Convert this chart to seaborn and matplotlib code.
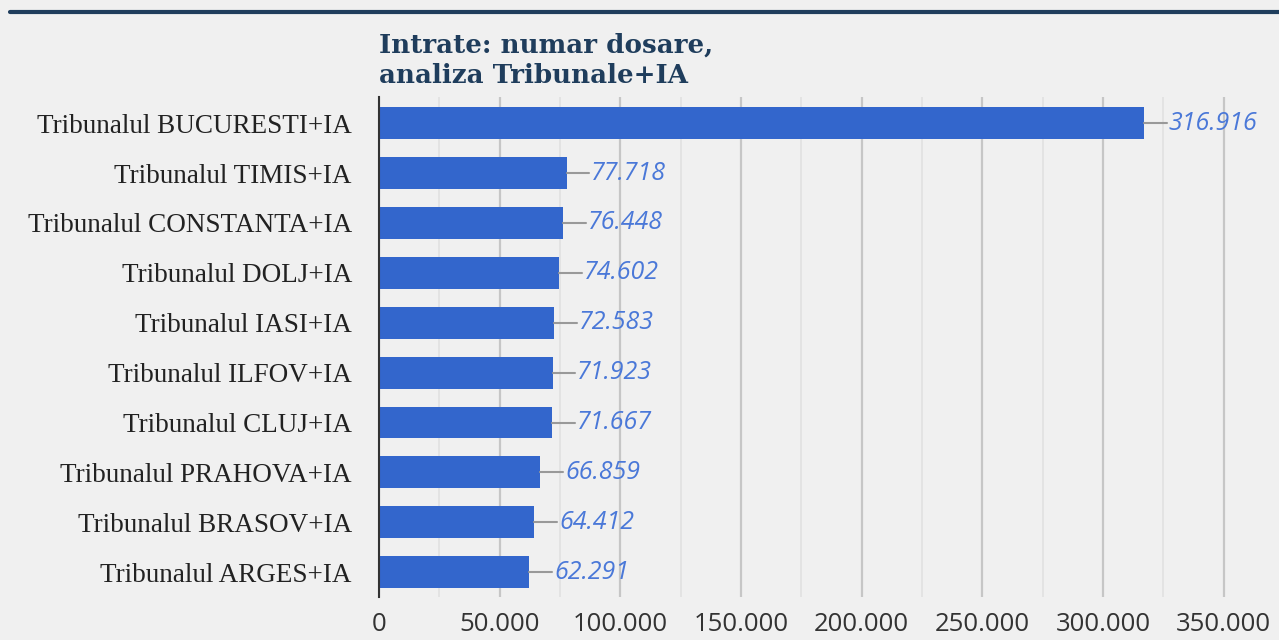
import matplotlib
matplotlib.use("Agg")
import matplotlib.pyplot as plt
import seaborn as sns
import pandas as pd
from matplotlib.lines import Line2D
from matplotlib.ticker import MultipleLocator, FuncFormatter

# Data
courts = ["Tribunalul BUCURESTI+IA", "Tribunalul TIMIS+IA", "Tribunalul CONSTANTA+IA",
          "Tribunalul DOLJ+IA", "Tribunalul IASI+IA", "Tribunalul ILFOV+IA",
          "Tribunalul CLUJ+IA", "Tribunalul PRAHOVA+IA", "Tribunalul BRASOV+IA",
          "Tribunalul ARGES+IA"]
cases = [316916, 77718, 76448, 74602, 72583, 71923, 71667, 66859, 64412, 62291]

df = pd.DataFrame({"court": courts, "cases": cases})


def fmt(v, pos=None):
    return f"{int(v):,}".replace(",", ".")


sns.set_style("white")
bg = "#f0f0f0"
fig = plt.figure(figsize=(12.79, 6.4), dpi=100, facecolor=bg)
ax = fig.add_axes([0.2963, 0.067, 0.683, 0.781])
ax.set_facecolor(bg)

sns.barplot(data=df, x="cases", y="court", color="#3366cc", width=0.64,
            saturation=1, linewidth=0, ax=ax, zorder=3)

ax.set_xlim(0, 362000)
ax.set_ylim(9.5, -0.52)
ax.xaxis.set_major_locator(MultipleLocator(50000))
ax.xaxis.set_minor_locator(MultipleLocator(25000))
ax.xaxis.set_major_formatter(FuncFormatter(fmt))
ax.grid(axis="x", which="major", color="#c6c6c6", linewidth=1.6, zorder=0)
ax.grid(axis="x", which="minor", color="#e3e3e3", linewidth=1.4, zorder=0)
ax.set_axisbelow(True)

for s in ["top", "right", "bottom"]:
    ax.spines[s].set_visible(False)
ax.spines["left"].set_color("#333333")
ax.spines["left"].set_linewidth(1.5)
ax.spines["left"].set_zorder(5)

ax.tick_params(axis="both", which="both", length=0)
ax.tick_params(axis="y", pad=19.5)
ax.tick_params(axis="x", pad=11)
for t in ax.get_yticklabels():
    t.set_fontfamily("Liberation Serif")
    t.set_fontsize(19.5)
    t.set_color("#222222")
for t in ax.get_xticklabels():
    t.set_fontfamily("Open Sans")
    t.set_fontsize(18.5)
    t.set_color("#333333")
ax.set_xlabel("")
ax.set_ylabel("")

# leader lines and value labels
for i, v in enumerate(cases):
    ax.plot([v, v + 9500], [i, i], color="#999999", linewidth=1.5, zorder=4)
    ax.text(v + 10300, i, fmt(v), va="center", ha="left", fontsize=18,
            style="italic", color="#4a78d8", family="Open Sans", zorder=4)

# title
fig.text(0.2963, 0.870, "Intrate: numar dosare,\nanaliza Tribunale+IA",
         ha="left", va="baseline", fontsize=18.8, fontweight="bold",
         family="DejaVu Serif", color="#1f3d5c", linespacing=1.3)

# top rule
fig.add_artist(Line2D([0.008, 1.0], [0.981, 0.981], color="#1f3d5c",
                      linewidth=3, transform=fig.transFigure))

plt.savefig("out.png", dpi=100, facecolor=bg)
